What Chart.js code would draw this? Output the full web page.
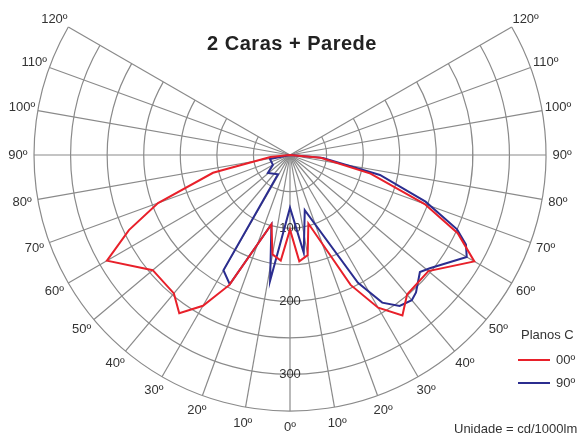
<!DOCTYPE html>
<html>
<head>
<meta charset="utf-8">
<script src="https://cdn.jsdelivr.net/npm/chart.js@4/dist/chart.umd.min.js"></script>
<style>
  html, body { margin: 0; padding: 0; background: #fff; }
  #wrap { position: relative; width: 582px; height: 436px; font-family: "Liberation Sans", Arial, sans-serif; color: #333; }
  #chart { position: absolute; left: 0; top: 0; }
  .txt { position: absolute; font-size: 13px; line-height: 16px; white-space: nowrap; }
  #title { position: absolute; left: 0; top: 32px; width: 584px; text-align: center; font-size: 20px; letter-spacing: 0.5px; font-weight: bold; color: #222; }
  .swatch { position: absolute; width: 32px; height: 2px; }
</style>
</head>
<body>
<div id="wrap">
  <canvas id="chart" width="582" height="436"></canvas>
  <div id="title">2 Caras + Parede</div>
  <div class="txt" style="left:521px; top:327px;">Planos C</div>
  <div class="swatch" style="left:518px; top:359px; background:#e8202a;"></div>
  <div class="txt" style="left:556px; top:352px;">00º</div>
  <div class="swatch" style="left:518px; top:382px; background:#2b2d8f;"></div>
  <div class="txt" style="left:556px; top:375px;">90º</div>
  <div class="txt" style="left:454px; top:421px;">Unidade = cd/1000lm</div>
</div>
<script>
// ângulos gama (negativo = lado esquerdo), intensidades em cd/1000lm
const redAngles  = [-90, -84, -77, -70, -65, -60, -50, -40, -35, -30, -25, -15, -10, -5, 0, 5, 10, 15, 25, 30, 35, 40, 50, 60, 65, 70, 77, 85, 90];
const redValues  = [0, 27, 108, 192, 243, 289, 245, 247, 264, 238, 196, 98, 138, 145, 102, 146, 139, 97, 196, 241, 268, 249, 247, 291, 253, 196, 113, 42, 0];
const blueAngles = [-90, -79, -60, -51, -32, -30, -25, -15, -9, 0, 8, 15, 28, 32, 36, 40, 42.5, 48, 51, 60, 63, 66, 71, 77.5, 85, 90];
const blueValues = [0, 28, 27, 39, 31, 182, 195, 98, 174, 72, 135, 78, 198, 238, 255, 259, 255, 239, 246, 279, 270, 250, 196, 126, 45, 0];

const rings = [50, 100, 150, 200, 250, 300, 350];
const ringLabels = [100, 200, 300];
const spokeAngles = [-120, -110, -100, -90, -80, -70, -60, -50, -40, -30, -20, -10, 0, 10, 20, 30, 40, 50, 60, 70, 80, 90, 100, 110, 120];

const PX_PER_CD = 36.57 / 50;
const CX = 290, CY = 155;
const OUTER = 350, LABEL_R = 372;

const rad = a => a * Math.PI / 180;
const toXY = (a, v) => ({ x: v * Math.sin(rad(a)), y: -v * Math.cos(rad(a)) });

const polarGrid = {
  id: 'polarGrid',
  beforeDatasetsDraw(chart) {
    const { ctx, scales: { x, y } } = chart;
    const cx = x.getPixelForValue(0), cy = y.getPixelForValue(0);
    const k = x.getPixelForValue(1) - cx;
    ctx.save();
    ctx.strokeStyle = '#8a8a8a';
    ctx.lineWidth = 1.2;
    rings.forEach(r => {
      ctx.beginPath();
      ctx.arc(cx, cy, r * k, -Math.PI / 6, Math.PI * 7 / 6);
      ctx.stroke();
    });
    spokeAngles.forEach(a => {
      const p = toXY(a, OUTER);
      ctx.beginPath();
      ctx.moveTo(cx, cy);
      ctx.lineTo(x.getPixelForValue(p.x), y.getPixelForValue(p.y));
      ctx.stroke();
    });
    ctx.fillStyle = '#333';
    ctx.font = '13px "Liberation Sans", Arial, sans-serif';
    ctx.textAlign = 'center';
    ctx.textBaseline = 'middle';
    spokeAngles.forEach(a => {
      const p = toXY(a, LABEL_R);
      ctx.fillText(Math.abs(a) + 'º', x.getPixelForValue(p.x), y.getPixelForValue(p.y));
    });
    ringLabels.forEach(v => {
      ctx.fillText(String(v), cx, y.getPixelForValue(-v));
    });
    ctx.restore();
  }
};

new Chart(document.getElementById('chart'), {
  type: 'scatter',
  data: {
    datasets: [
      {
        label: '00º',
        data: redAngles.map((a, i) => toXY(a, redValues[i])),
        borderColor: '#e8202a',
        borderWidth: 2,
        showLine: true,
        pointRadius: 0,
        tension: 0
      },
      {
        label: '90º',
        data: blueAngles.map((a, i) => toXY(a, blueValues[i])),
        borderColor: '#2b2d8f',
        borderWidth: 2,
        showLine: true,
        pointRadius: 0,
        tension: 0
      }
    ]
  },
  options: {
    responsive: false,
    animation: false,
    layout: { padding: 0 },
    plugins: { legend: { display: false }, tooltip: { enabled: false } },
    scales: {
      x: { display: false, min: -CX / PX_PER_CD, max: (582 - CX) / PX_PER_CD },
      y: { display: false, min: -(436 - CY) / PX_PER_CD, max: CY / PX_PER_CD }
    }
  },
  plugins: [polarGrid]
});
</script>
</body>
</html>
